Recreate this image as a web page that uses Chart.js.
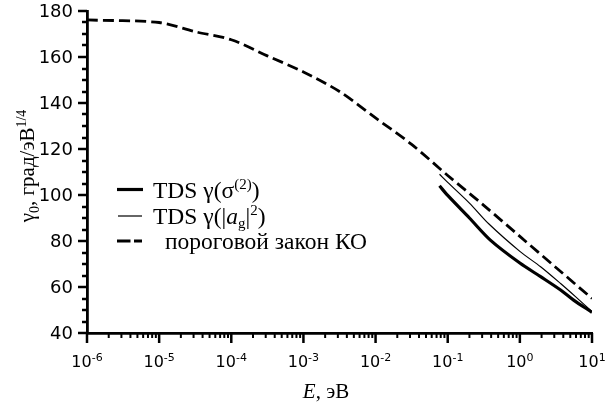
<!DOCTYPE html>
<html><head><meta charset="utf-8">
<script src="https://cdn.jsdelivr.net/npm/chart.js@4/dist/chart.umd.min.js"></script>
<style>html,body{margin:0;padding:0;background:#fff}#wrap{width:605px;height:413px}</style>
</head><body><div id="wrap"><canvas id="c" width="605" height="413"></canvas></div>
<script>
// ---- data ----
const thresholdE = [1e-6, 1e-5, 3.16e-5, 1e-4, 3.16e-4, 1e-3, 3.16e-3, 1e-2, 3.16e-2, 1e-1, 3.16e-1, 1, 3.16, 10];
const thresholdG = [176.1, 175.0, 171.0, 167.5, 160.5, 153.5, 145.0, 133.5, 122.0, 108.5, 95.5, 82.0, 68.5, 55.0];
const sigmaE = [0.077, 0.1, 0.2, 0.39, 1, 1.94, 3.67, 5.56, 10];
const sigmaG = [104, 99.8, 90, 80.4, 70.4, 64.5, 58.7, 54.3, 49];
const agE = [0.077, 0.1, 0.2, 0.37, 1, 1.94, 3.67, 5.9, 10];
const agG = [109, 105.5, 96.5, 87.5, 75.5, 68.8, 61.5, 55.8, 49.3];
const xTickExps = ['-6', '-5', '-4', '-3', '-2', '-1', '0', '1'];
const yTickLabels = [40, 60, 80, 100, 120, 140, 160, 180];

const pts = (xs, ys) => xs.map((x, i) => ({x, y: ys[i]}));

const drawPlugin = {
  id: 'custom',
  afterDraw(chart) {
    const ctx = chart.ctx, xs = chart.scales.x, ys = chart.scales.y;
    const ca = chart.chartArea;
    ctx.save();
    ctx.strokeStyle = '#000'; ctx.fillStyle = '#000';
    // y ticks
    ctx.lineWidth = 2.5;
    for (let v = 40; v <= 180; v += 5) {
      const py = Math.round(ys.getPixelForValue(v));
      const len = (v % 20 === 0) ? 9 : 5;
      ctx.beginPath(); ctx.moveTo(ca.left, py); ctx.lineTo(ca.left - len, py); ctx.stroke();
    }
    ctx.font = '18px "DejaVu Sans"'; ctx.textAlign = 'right'; ctx.textBaseline = 'middle';
    yTickLabels.forEach(v => ctx.fillText(String(v), 73, ys.getPixelForValue(v) + 1));
    // x ticks
    for (let e = -6; e <= 1; e++) {
      for (let m = 1; m <= 9; m++) {
        if (e === 1 && m > 1) break;
        const px = xs.getPixelForValue(m * Math.pow(10, e));
        const len = m === 1 ? 10 : 5;
        ctx.lineWidth = m === 1 ? 2.5 : 2;
        ctx.beginPath(); ctx.moveTo(px, ca.bottom); ctx.lineTo(px, ca.bottom + len); ctx.stroke();
      }
    }
    xTickExps.forEach((ex, i) => {
      const px = xs.getPixelForValue(Math.pow(10, Number(ex)));
      ctx.font = '16px "DejaVu Sans"';
      const w1 = ctx.measureText('10').width;
      ctx.font = '11px "DejaVu Sans"';
      const w2 = ctx.measureText(ex).width;
      const x0 = px - (w1 + w2) / 2;
      ctx.textAlign = 'left'; ctx.textBaseline = 'alphabetic';
      ctx.font = '16px "DejaVu Sans"'; ctx.fillText('10', x0, 367);
      ctx.font = '11px "DejaVu Sans"'; ctx.fillText(ex, x0 + w1, 361);
    });
    // x title
    const serif = '"Liberation Serif", "Times New Roman", serif';
    ctx.textAlign = 'left';
    ctx.font = 'italic 21px ' + serif;
    let wE = ctx.measureText('E').width;
    ctx.font = '21px ' + serif;
    let wR = ctx.measureText(', эВ').width;
    let xx = 326 - (wE + wR) / 2;
    ctx.font = 'italic 21px ' + serif; ctx.fillText('E', xx, 398);
    ctx.font = '21px ' + serif; ctx.fillText(', эВ', xx + wE, 398);
    // y title (rotated)
    ctx.save();
    ctx.translate(34, 166); ctx.rotate(-Math.PI / 2);
    const parts = [['γ', 21, 0], ['0', 14, 5], [', град/эВ', 21, 0], ['1/4', 14, -8]];
    let tot = 0;
    parts.forEach(p => { ctx.font = p[1] + 'px ' + serif; tot += ctx.measureText(p[0]).width; });
    let cx = -tot / 2;
    parts.forEach(p => { ctx.font = p[1] + 'px ' + serif; ctx.fillText(p[0], cx, p[2]); cx += ctx.measureText(p[0]).width; });
    ctx.restore();
    // legend
    ctx.lineCap = 'butt';
    ctx.lineWidth = 3.2; ctx.beginPath(); ctx.moveTo(117, 189.5); ctx.lineTo(143, 189.5); ctx.stroke();
    ctx.lineWidth = 1.2; ctx.beginPath(); ctx.moveTo(118, 216); ctx.lineTo(142, 216); ctx.stroke();
    ctx.lineWidth = 3; ctx.beginPath(); ctx.moveTo(117, 241); ctx.lineTo(130.5, 241); ctx.moveTo(134, 241); ctx.lineTo(142, 241); ctx.stroke();
    const rich = (segs, x, y) => {
      segs.forEach(s => {
        ctx.font = (s.i ? 'italic ' : '') + s.f + 'px ' + serif;
        ctx.fillText(s.t, x, y + (s.dy || 0));
        x += ctx.measureText(s.t).width;
      });
    };
    rich([{t: 'TDS γ(σ', f: 23.5}, {t: '(2)', f: 15, dy: -9}, {t: ')', f: 23.5}], 153, 198);
    rich([{t: 'TDS γ(|', f: 23.5}, {t: 'a', f: 23.5, i: 1}, {t: 'g', f: 15, dy: 4}, {t: '|', f: 23.5}, {t: '2', f: 15, dy: -9}, {t: ')', f: 23.5}], 153, 224);
    rich([{t: 'пороговой закон КО', f: 23.5}], 165, 249);
    ctx.restore();
  }
};

new Chart(document.getElementById('c'), {
  type: 'line',
  data: {
    datasets: [
      {label: 'TDS γ(σ(2))', data: pts(sigmaE, sigmaG), borderColor: '#000', borderWidth: 3.2, pointRadius: 0, tension: 0.3, fill: false},
      {label: 'TDS γ(|ag|2)', data: pts(agE, agG), borderColor: '#000', borderWidth: 1.2, pointRadius: 0, tension: 0.3, fill: false},
      {label: 'пороговой закон КО', data: pts(thresholdE, thresholdG), borderColor: '#000', borderWidth: 2.8, borderDash: [11, 5], pointRadius: 0, tension: 0.3, fill: false}
    ]
  },
  options: {
    responsive: false, animation: false, devicePixelRatio: 1,
    layout: {padding: {left: 0, right: 13, top: 11, bottom: 0}},
    plugins: {legend: {display: false}, tooltip: {enabled: false}},
    scales: {
      x: {type: 'logarithmic', min: 1e-6, max: 10,
        grid: {display: false, drawTicks: false}, ticks: {display: false},
        border: {display: true, color: '#000', width: 2.8},
        afterFit: s => { s.height = 80; }},
      y: {type: 'linear', min: 40, max: 180,
        grid: {display: false, drawTicks: false}, ticks: {display: false},
        border: {display: true, color: '#000', width: 2.8},
        afterFit: s => { s.width = 87; }}
    }
  },
  plugins: [drawPlugin]
});
</script></body></html>
